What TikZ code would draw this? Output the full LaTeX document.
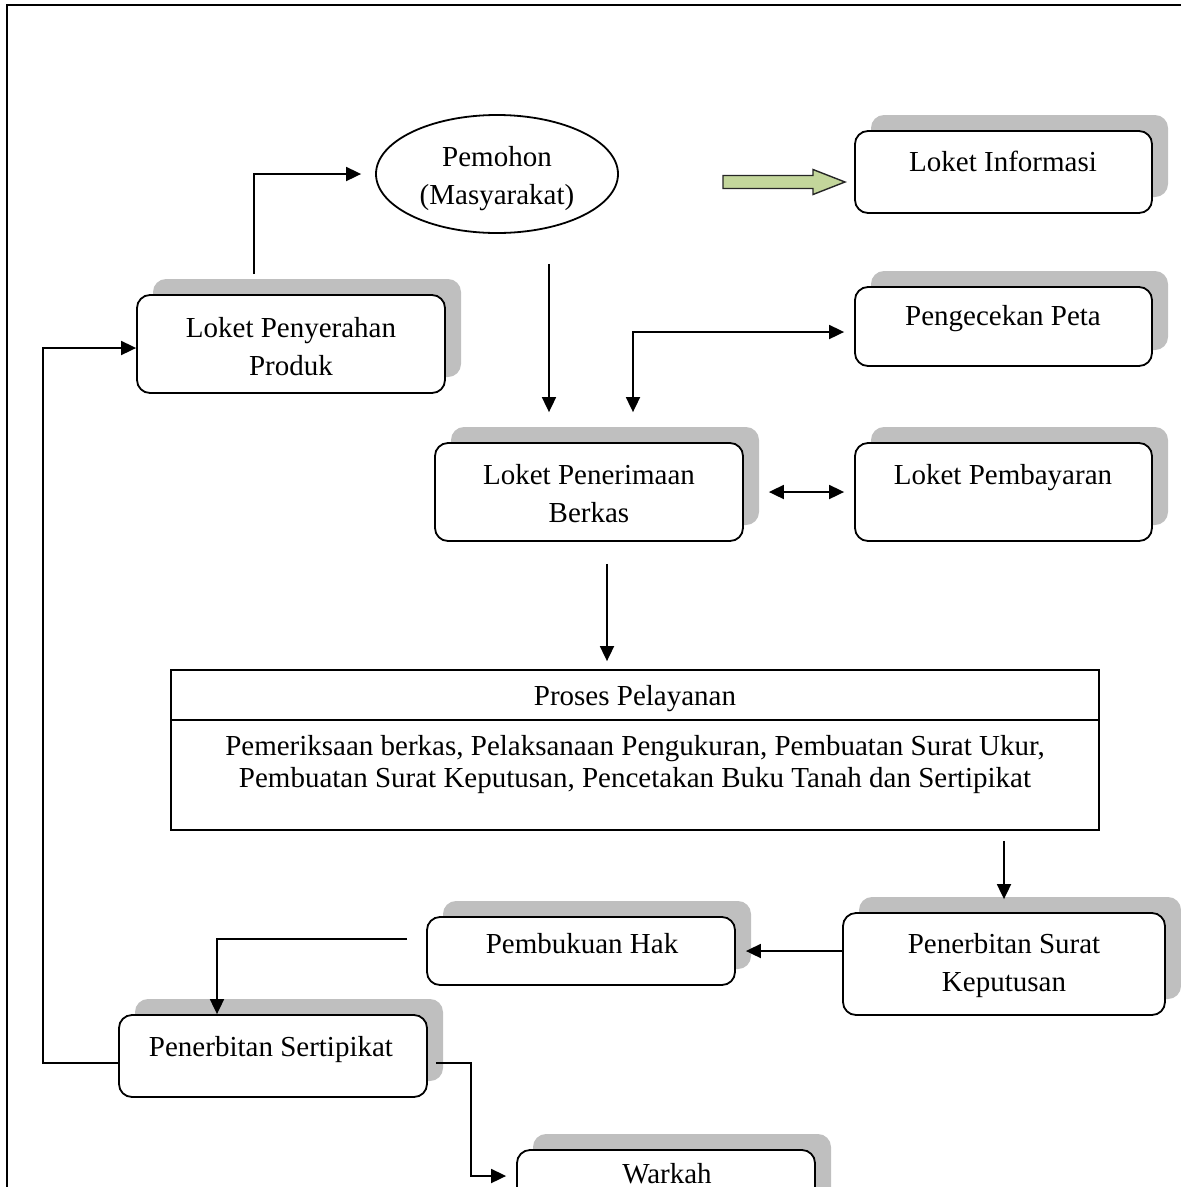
\documentclass[tikz,border=0pt]{standalone}
\usepackage{fontspec}
\setmainfont{Liberation Serif}
\usetikzlibrary{arrows.meta,shapes.geometric,shadows,calc}

\begin{document}
\begin{tikzpicture}[x=1pt,y=-1pt,
  stepbox/.style={draw, line width=1.8pt, rounded corners=13pt, fill=white,
    inner sep=0pt,
    drop shadow={shadow xshift=16pt, shadow yshift=16pt, fill=gray!50, opacity=1}},
  plainbox/.style={draw, line width=1.8pt, fill=white, inner sep=0pt},
  lbl/.style={font=\fontsize{29}{38}\selectfont, align=center, inner sep=0pt,
    text height=20pt, text depth=6pt},
  lblb/.style={font=\fontsize{29}{32}\selectfont, align=center, inner sep=0pt,
    text height=20pt, text depth=6pt},
  arr/.style={line width=1.8pt, -{Triangle[length=15pt,width=14pt]}},
  arrtwo/.style={line width=1.8pt, {Triangle[length=15pt,width=14pt]}-{Triangle[length=15pt,width=14pt]}},
  greenfill/.style={fill=arrowgreen, draw=black!85, line width=1.4pt, line join=miter}
]
\definecolor{arrowgreen}{HTML}{C3D69B}
\useasboundingbox (0,0) rectangle (1181,1187);

% page frame
\draw[line width=2.5pt] (7,1187) -- (7,5) -- (1181,5);

% applicant
\node[draw, ellipse, line width=1.8pt, minimum width=242pt, minimum height=118pt, inner sep=0pt]
  (pem) at (497,174) {};
\node[lbl] (pemT) at (497,197) {Pemohon\\(Masyarakat)};

% counters
\node[stepbox, minimum width=297pt, minimum height=82pt] (info) at (1003.5,172) {};
\node[lbl] (infoT) at (1003,164) {Loket Informasi};

\node[stepbox, minimum width=308pt, minimum height=98pt] (pyr) at (291,344) {};
\node[lbl] (pyrT) at (291,368) {Loket Penyerahan\\Produk};

\node[stepbox, minimum width=297pt, minimum height=79pt] (peta) at (1003.5,326.5) {};
\node[lbl] (petaT) at (1003,318) {Pengecekan Peta};

\node[stepbox, minimum width=308pt, minimum height=98pt] (pner) at (589,492) {};
\node[lbl] (pnerT) at (589,515) {Loket Penerimaan\\Berkas};

\node[stepbox, minimum width=297pt, minimum height=98pt] (pbay) at (1003.5,492) {};
\node[lbl] (pbayT) at (1003,477) {Loket Pembayaran};

% service process
\node[plainbox, minimum width=928pt, minimum height=160pt] (proc) at (635,750) {};
\draw[line width=1.8pt] ([yshift=-51pt]proc.north west) -- ([yshift=-51pt]proc.north east);
\node[lbl] (procT) at (635,698) {Proses Pelayanan};
\node[lblb] (procB) at (635,780) {Pemeriksaan berkas, Pelaksanaan Pengukuran, Pembuatan Surat Ukur,\\Pembuatan Surat Keputusan, Pencetakan Buku Tanah dan Sertipikat};

% issuing steps
\node[stepbox, minimum width=322pt, minimum height=102pt] (surat) at (1004,964) {};
\node[lbl] (suratT) at (1004,984) {Penerbitan Surat\\Keputusan};

\node[stepbox, minimum width=308pt, minimum height=68pt] (hak) at (581,951) {};
\node[lbl] (hakT) at (582,946) {Pembukuan Hak};

\node[stepbox, minimum width=308pt, minimum height=82pt] (sert) at (273,1056) {};
\node[lbl] (sertT) at (271,1049) {Penerbitan Sertipikat};

% the last box runs past the lower edge of the page
\node[stepbox, minimum width=298pt, minimum height=82pt] (wk) at (666,1191) {};
\node[lbl] (wkT) at (667,1176) {Warkah};

% connectors
\draw[arr] ([xshift=-37pt,yshift=20pt]pyr.north) |- ([xshift=-14pt]pem.west);

\coordinate (gs) at (723,182);
\coordinate (ge) at (845,182);
\draw[greenfill] (gs) ++(0,-6.5) -- ++(90,0) -- ++(0,-6) -- (ge) -- ++(-32,12.5)
  -- ++(0,-6) -- ++(-90,0) -- cycle;

\draw[arr] ([xshift=52pt,yshift=-30pt]pem.south) -- ([xshift=-40pt,yshift=30pt]pner.north);

\coordinate (pk) at (633,332);
\draw[arrtwo] ([yshift=30pt]pner.north -| pk) |- ([xshift=-10pt]peta.west |- pk);

\draw[arrtwo] ([xshift=25pt]pner.east) -- ([xshift=-10pt]pbay.west);

\draw[arr] ([xshift=18pt,yshift=-22pt]pner.south) -- ([xshift=-28pt,yshift=8pt]proc.north);

\draw[arr] ([yshift=-10pt]proc.south -| surat.north) -- ([yshift=13pt]surat.north);

\draw[arr] (surat.west |- hak.east) -- ([xshift=10pt]hak.east);

\draw[arr] ([xshift=-19pt,yshift=12pt]hak.west) -| ([xshift=-56pt]sert.north);

\draw[arr] ([xshift=8pt,yshift=-7pt]sert.east) -- ++(35,0) |- ([xshift=-10pt]wk.west |- wkT);

\draw[arr] ([yshift=-7pt]sert.west) -- ++(-75,0) |- ([yshift=-4pt]pyr.west);
\end{tikzpicture}
\end{document}
